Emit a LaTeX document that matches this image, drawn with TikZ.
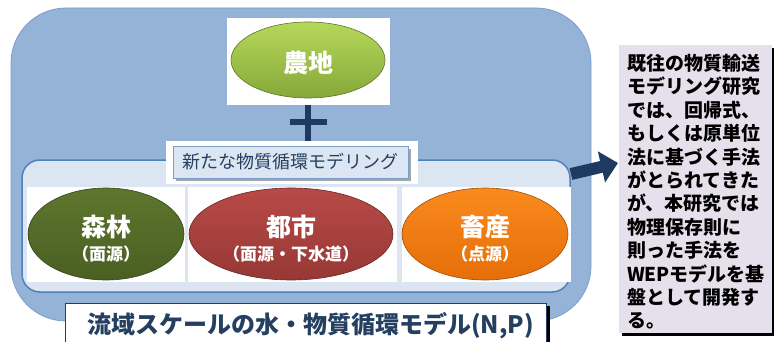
\documentclass[tikz,border=0pt]{standalone}
\usepackage{fontspec}
\setmainfont{Noto Sans CJK JP}
\usetikzlibrary{shapes.geometric,arrows.meta}
\definecolor{outerfill}{HTML}{95B3D7}
\definecolor{outerdraw}{HTML}{7A9FCC}
\definecolor{innerfill}{HTML}{DCE6F2}
\definecolor{innerdraw}{HTML}{4F81BD}
\definecolor{navy}{HTML}{1F3A60}
\definecolor{titlec}{HTML}{243F60}
\definecolor{noutop}{HTML}{B5D85A}
\definecolor{noubot}{HTML}{86A83A}
\definecolor{morittop}{HTML}{5E762E}
\definecolor{moribot}{HTML}{4A5F22}
\definecolor{tositop}{HTML}{B84A47}
\definecolor{tosibot}{HTML}{963835}
\definecolor{chikutop}{HTML}{FA8A1E}
\definecolor{chikubot}{HTML}{E56E08}
\definecolor{notefill}{HTML}{E5E0EC}
\tikzset{
  src/.style={ellipse, draw=#1!70!black, line width=0.6pt},
  big/.style={font=\bfseries\fontsize{25}{27}\selectfont, text=white, inner sep=0pt},
  small/.style={font=\bfseries\fontsize{17}{19}\selectfont, text=white, inner sep=0pt},
}
\begin{document}
\begin{tikzpicture}[x=1pt,y=-1pt]
\useasboundingbox (0,0) rectangle (778,342);
% outer rounded panel
\path[fill=outerfill, draw=outerdraw, line width=0.8pt, rounded corners=55pt] (11,8) rectangle (591,321);
% inner panel
\path[fill=innerfill, draw=innerdraw, line width=1.5pt, rounded corners=18pt] (22,160) rectangle (570,292);
% white squares
\fill[white] (27,187) rectangle (185,282);
\fill[white] (188,187) rectangle (397,282);
\fill[white] (402,187) rectangle (571,282);
\fill[white] (227,18) rectangle (390,105);
% ellipses
\node[src=noubot, top color=noutop, bottom color=noubot, minimum width=154pt, minimum height=76pt] (nouchi) at (308,60) {};
\node[big] (nouchit) at (308,63) {農地};
\node[src=moribot, top color=morittop, bottom color=moribot, minimum width=156pt, minimum height=92pt] (shinrin) at (106,234) {};
\node[big] (shinrint) at (106,227) {森林};
\node[small] (shinrins) at (106,254) {（面源）};
\node[src=tosibot, top color=tositop, bottom color=tosibot, minimum width=204pt, minimum height=92pt] (toshi) at (291,234) {};
\node[big] (toshit) at (291,227) {都市};
\node[small] (toshis) at (291,254) {（面源・下水道）};
\node[src=chikubot, top color=chikutop, bottom color=chikubot, minimum width=166pt, minimum height=92pt] (chiku) at (485,234) {};
\node[big] (chikut) at (485,227) {畜産};
\node[small] (chikus) at (485,254) {（点源）};
% plus sign
\coordinate (pv1) at (307.5,105);
\coordinate (pv2) at (307.5,141);
\coordinate (ph1) at (290,122);
\coordinate (ph2) at (327,122);
\draw[navy, line width=6pt] (pv1) -- (pv2);
\draw[navy, line width=6pt] (ph1) -- (ph2);
% label box
\fill[white] (166,141) rectangle (418,184);
\fill[black!35] (176,149) rectangle (411,181);
\node[fill=innerfill, draw=outerdraw, line width=1pt, minimum width=235pt, minimum height=32pt, inner sep=0pt,
      font=\fontsize{18}{20}\selectfont, text=titlec] (newlabel) at (290.5,162) {新たな物質循環モデリング};
% bottom title
\fill[black] (68,306) rectangle (550,346);
\node[fill=white, draw=titlec, line width=1.2pt, minimum width=481pt, minimum height=42pt, inner sep=0pt, anchor=north west] (title) at (65,303) {};
\node[font=\bfseries\fontsize{24}{26}\selectfont, text=titlec, inner sep=0pt, anchor=west] (titlet) at (87,326) {流域スケールの水・物質循環モデル(N,P)};
% note box
\fill[black] (622,48) rectangle (774,336);
\node[fill=notefill, draw=none, minimum width=153pt, minimum height=288pt, inner sep=0pt, anchor=north west] (note) at (619,45) {};
\node[anchor=north west, inner sep=0pt, align=left, font=\bfseries\fontsize{19}{23.4}\selectfont, text=black] (notet) at (627,54)
{既往の物質輸送\\モデリング研究\\では、回帰式、\\もしくは原単位\\法に基づく手法\\がとられてきた\\が、本研究では\\物理保存則に\\則った手法を\\WEPモデルを基\\盤として開発す\\る。};
% arrow
\coordinate (a1) at (571,174);
\coordinate (a2) at (618,163);
\draw[navy, line width=12pt, -{Triangle[length=17pt,width=31pt]}] (a1) -- (a2);
\end{tikzpicture}
\end{document}
